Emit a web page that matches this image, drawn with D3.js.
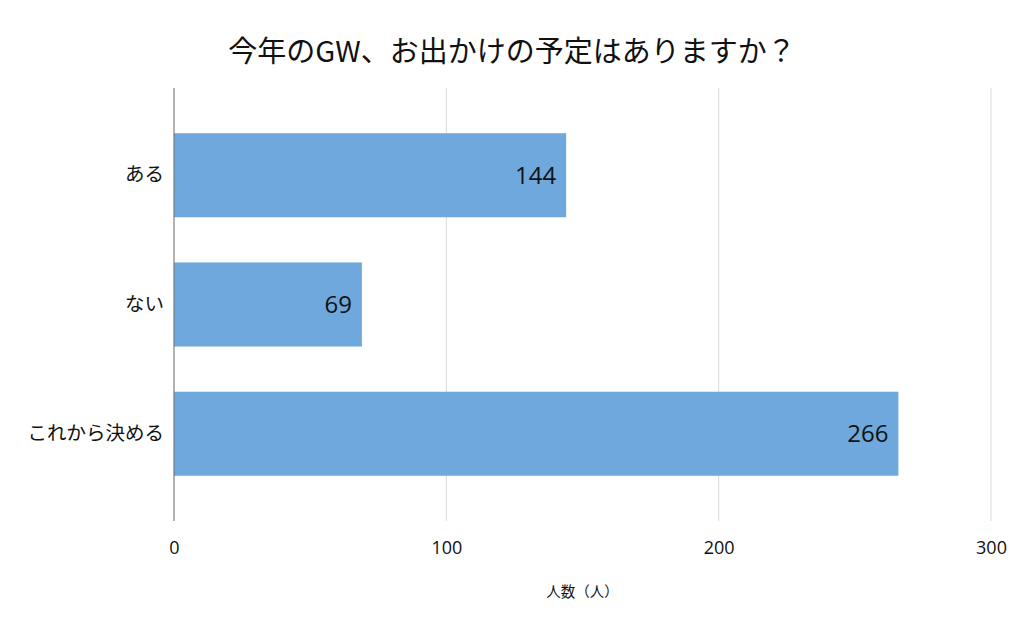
<!DOCTYPE html>
<html>
<head>
<meta charset="utf-8">
<script src="https://cdn.jsdelivr.net/npm/d3@7"></script>
<style>
  body { margin: 0; background: #fff; }
  text { font-family: "Noto Sans CJK JP", "Noto Sans", sans-serif; fill: #111; }
</style>
</head>
<body>
<div id="chart"></div>
<script>
// データ
const categories = ["ある", "ない", "これから決める"];
const counts = [144, 69, 266];
const xTicks = [0, 100, 200, 300];
const title = "今年のGW、お出かけの予定はありますか？";
const xTitle = "人数（人）";

const W = 1024, H = 633;
const margin = { left: 174, right: 33, top: 88, bottom: 112 };
const width = W - margin.left - margin.right;
const height = H - margin.top - margin.bottom;

const svg = d3.select("#chart").append("svg")
    .attr("width", W)
    .attr("height", H);

const g = svg.append("g")
    .attr("transform", `translate(${margin.left},${margin.top})`);

const x = d3.scaleLinear().domain([0, 300]).range([0, width]);
const y = d3.scaleBand().domain(categories).range([0, height])
    .paddingInner(0.35).paddingOuter(0.35);

// タイトル
svg.append("text")
    .attr("x", W / 2)
    .attr("y", 62)
    .attr("text-anchor", "middle")
    .style("font-size", "29px")
    .text(title);

// グリッド線
g.append("g")
    .selectAll("line")
    .data(xTicks.filter(d => d > 0))
    .join("line")
    .attr("x1", d => x(d)).attr("x2", d => x(d))
    .attr("y1", 0).attr("y2", height)
    .attr("stroke", "#d9d9d9")
    .attr("stroke-width", 1);

// 棒
g.append("g")
    .selectAll("rect")
    .data(categories)
    .join("rect")
    .attr("x", x(0))
    .attr("y", d => y(d))
    .attr("width", (d, i) => x(counts[i]) - x(0))
    .attr("height", y.bandwidth())
    .attr("fill", "#6fa8dc");

// 値ラベル
g.append("g")
    .selectAll("text")
    .data(categories)
    .join("text")
    .attr("x", (d, i) => x(counts[i]) - 10)
    .attr("y", d => y(d) + y.bandwidth() / 2)
    .attr("dy", "0.36em")
    .attr("text-anchor", "end")
    .style("font-size", "24px")
    .style("font-family", "'Open Sans', 'Noto Sans', sans-serif")
    .text((d, i) => counts[i]);

// 0の軸線
g.append("line")
    .attr("x1", x(0)).attr("x2", x(0))
    .attr("y1", 0).attr("y2", height)
    .attr("stroke", "#666")
    .attr("stroke-width", 1);

// y軸ラベル
const yAxis = d3.axisLeft(y).tickSize(0).tickPadding(10);
g.append("g")
    .call(yAxis)
    .call(s => s.select(".domain").remove())
    .selectAll("text")
    .style("font-size", "19.5px")
    .style("fill", "#111");

// x軸ラベル
const xAxis = d3.axisBottom(x).tickValues(xTicks).tickSize(0).tickPadding(20);
g.append("g")
    .attr("transform", `translate(0,${height})`)
    .call(xAxis)
    .call(s => s.select(".domain").remove())
    .selectAll("text")
    .style("font-size", "18px")
    .style("font-family", "'Open Sans', 'Noto Sans', sans-serif")
    .style("fill", "#111");

// x軸タイトル
svg.append("text")
    .attr("x", margin.left + width / 2)
    .attr("y", 597)
    .attr("text-anchor", "middle")
    .style("font-size", "14.5px")
    .text(xTitle);
</script>
</body>
</html>
